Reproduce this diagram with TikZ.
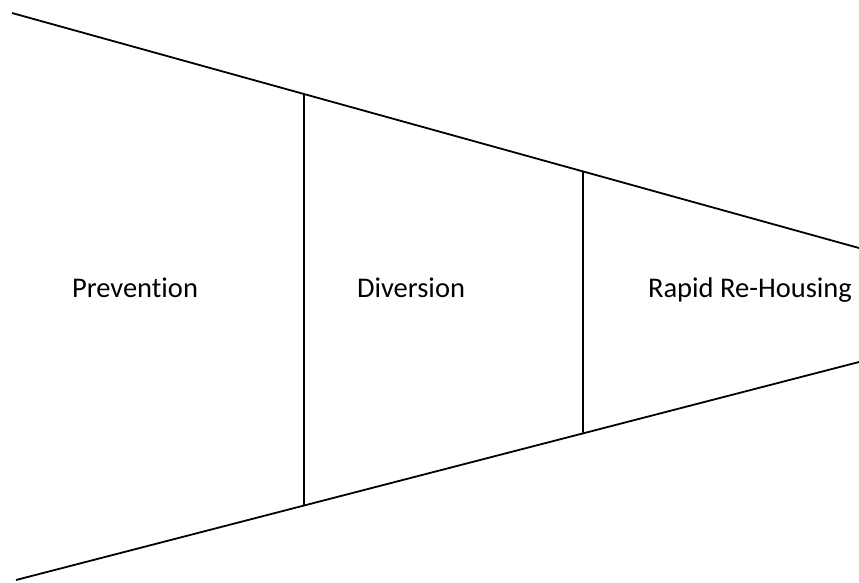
\documentclass[tikz,border=0pt]{standalone}
\usepackage{fontspec}
\setmainfont[Ligatures=NoCommon]{Carlito}
\begin{document}
\begin{tikzpicture}[x=1pt,y=-1pt,
  edge/.style={line width=1.8pt},
  lbl/.style={anchor=base,inner sep=0pt,font=\fontsize{28.5}{34}\selectfont}]
\useasboundingbox (0,0) rectangle (859,582);
\coordinate (t1) at (12,13);
\coordinate (t2) at (859,248);
\coordinate (b1) at (16,580);
\coordinate (b2) at (859,362);
\coordinate (v1t) at (304,94);
\coordinate (v1b) at (304,505.5);
\coordinate (v2t) at (583,171.3);
\coordinate (v2b) at (583,433.4);
\draw[edge] (t1) -- (t2);
\draw[edge] (b1) -- (b2);
\draw[edge] (v1t) -- (v1b);
\draw[edge] (v2t) -- (v2b);
\node[lbl] (prev) at (135,297) {Prevention};
\node[lbl] (div) at (411,297) {Diversion};
\node[lbl] (rrh) at (750,297) {Rapid Re-Housing};
\end{tikzpicture}
\end{document}
